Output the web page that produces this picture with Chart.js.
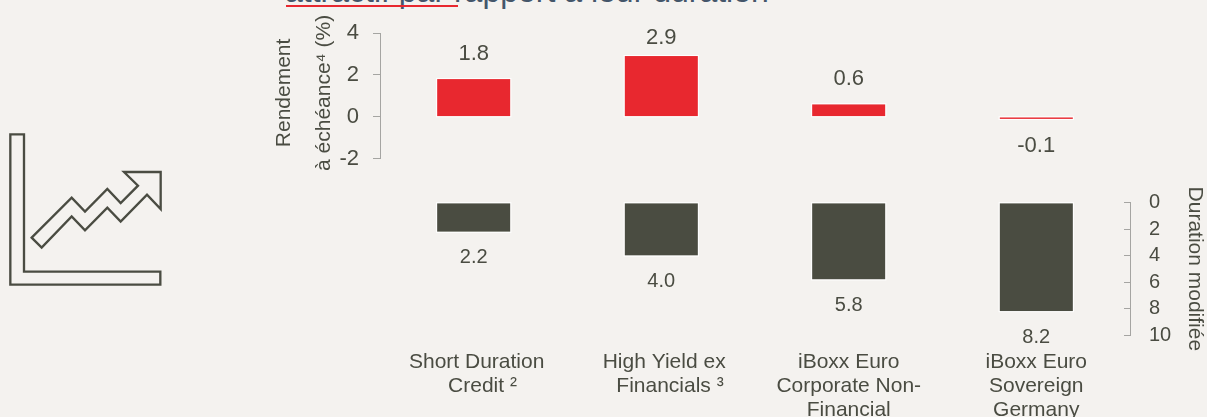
<!DOCTYPE html>
<html lang="fr">
<head>
<meta charset="utf-8">
<title>Rendement et duration</title>
<script src="https://cdn.jsdelivr.net/npm/chart.js@4"></script>
<style>
  html, body { margin: 0; width: 1207px; height: 417px; overflow: hidden; background: #f4f2ef; }
  canvas { position: absolute; left: 0; }
  #yieldChart { top: 0; }
  #durationChart { top: 150px; }
  #heading { position: absolute; left: 285px; top: -24px; font: 32px/30px "Liberation Sans", Arial, sans-serif; color: #44566a; white-space: nowrap; }
  #headingRule { position: absolute; left: 286px; top: 5px; width: 172px; height: 1.5px; background: #e8282f; }
  #icon { position: absolute; left: 0; top: 120px; }
</style>
</head>
<body>
<div id="heading">attractif par rapport à leur duration</div>
<div id="headingRule"></div>
<svg id="icon" width="180" height="180" viewBox="0 0 540 540" fill="none" stroke="#4a4c42" stroke-width="7">
  <path d="M31 43H72V455H481V494H31Z"/>
  <path d="M95 353L215 233L255 275L322 207L362 249L414 197L372 156H482V267L441 224L362 305L322 263L255 331L215 289L125 383Z"/>
</svg>
<canvas id="yieldChart" width="1207" height="190"></canvas>
<canvas id="durationChart" width="1207" height="267"></canvas>

<script>
const categories = [
  [' Short Duration', '   Credit ²'],
  [' High Yield ex', '   Financials ³'],
  ['iBoxx Euro', 'Corporate Non-', 'Financial'],
  ['iBoxx Euro', 'Sovereign', 'Germany'],
];
const yieldValues = [1.8, 2.9, 0.6, -0.1];
const durationValues = [2.2, 4.0, 5.8, 8.2];
const yieldTicks = [-2, 0, 2, 4];
const durationTicks = [0, 2, 4, 6, 8, 10];

const fontFamily = '"Liberation Sans", Arial, sans-serif';
const textColor = '#4a4c42';
const axisColor = '#a5a5a2';
const red = '#e8282f';
const dark = '#4a4c41';

// white outline around each bar and its value label, both from the bar's own position
const valueLabels = {
  id: 'valueLabels',
  afterDatasetsDraw(chart, args, opts) {
    const ctx = chart.ctx;
    const values = chart.data.datasets[0].data;
    ctx.save();
    ctx.font = `${opts.size}px ${fontFamily}`;
    ctx.textAlign = 'center';
    ctx.textBaseline = 'middle';
    chart.getDatasetMeta(0).data.forEach((bar, i) => {
      const top = Math.min(bar.y, bar.base);
      ctx.strokeStyle = '#ffffff';
      ctx.lineWidth = 1;
      ctx.strokeRect(bar.x - bar.width / 2 - 0.5, top - 0.5, bar.width + 1, Math.abs(bar.y - bar.base) + 1);
      const below = values[i] < 0 || chart.scales.y.options.reverse;
      const y = bar.y + (below ? opts.below : -opts.above);
      ctx.fillStyle = textColor;
      ctx.fillText(values[i].toFixed(1), bar.x, Math.max(y, opts.minY));
    });
    ctx.restore();
  }
};

const barStyle = { barPercentage: 0.391, categoryPercentage: 1, borderWidth: 0 };

new Chart(document.getElementById('yieldChart'), {
  type: 'bar',
  plugins: [valueLabels],
  data: {
    labels: categories,
    datasets: [{ data: yieldValues, backgroundColor: red, ...barStyle }]
  },
  options: {
    responsive: false, animation: false,
    layout: { padding: { left: 260, right: 77, top: 33, bottom: 31.3 } },
    plugins: {
      legend: { display: false }, tooltip: { enabled: false },
      valueLabels: { size: 22, above: 25.5, below: 27.5, minY: 38 }
    },
    scales: {
      x: { display: false },
      y: {
        min: yieldTicks[0], max: yieldTicks[yieldTicks.length - 1],
        afterFit: s => { s.width = 120; },
        ticks: { stepSize: 2, autoSkip: false, color: textColor, padding: 14, font: { family: fontFamily, size: 22 } },
        grid: { drawOnChartArea: false, tickLength: 7, color: axisColor },
        border: { color: axisColor },
        title: {
          display: true, text: [' Rendement', ' à échéance⁴ (%)'], color: textColor, padding: { top: 4, bottom: 0 },
          font: { family: fontFamily, size: 21, lineHeight: '40px' }
        }
      }
    }
  }
});

new Chart(document.getElementById('durationChart'), {
  type: 'bar',
  plugins: [valueLabels],
  data: {
    labels: categories,
    datasets: [{ data: durationValues, backgroundColor: dark, ...barStyle }]
  },
  options: {
    responsive: false, animation: false,
    layout: { padding: { left: 380, right: 0, top: 52.7, bottom: 0 } },
    plugins: {
      legend: { display: false }, tooltip: { enabled: false },
      valueLabels: { size: 20, above: 26, below: 26, minY: 0 }
    },
    scales: {
      x: {
        afterFit: s => { s.height = 82; },
        border: { display: false },
        grid: { display: false },
        ticks: {
          color: textColor, padding: 7, maxRotation: 0, autoSkip: false,
          font: { family: fontFamily, size: 21, lineHeight: '24px' }
        }
      },
      y: {
        position: 'right', reverse: true,
        min: durationTicks[0], max: durationTicks[durationTicks.length - 1],
        afterFit: s => { s.width = 77; },
        ticks: { stepSize: 2, autoSkip: false, color: textColor, padding: 25, font: { family: fontFamily, size: 20 } },
        grid: { drawOnChartArea: false, tickLength: -6, color: axisColor },
        border: { color: axisColor },
        title: {
          display: true, text: 'Duration modifiée', color: textColor, padding: 0,
          font: { family: fontFamily, size: 21, lineHeight: '24px' }
        }
      }
    }
  }
});
</script>
</body>
</html>
